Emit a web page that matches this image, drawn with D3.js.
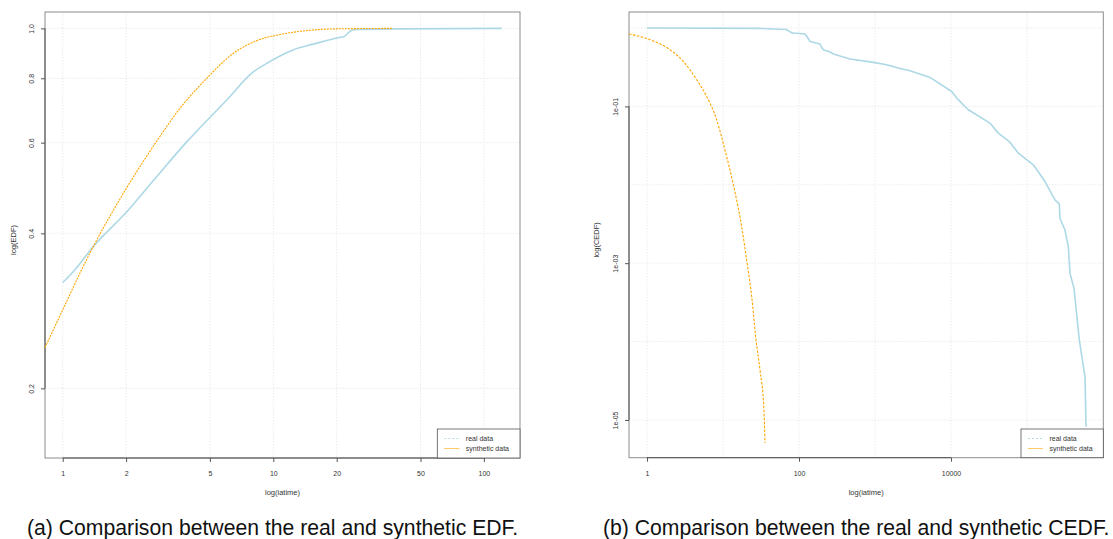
<!DOCTYPE html>
<html><head><meta charset="utf-8">
<script src="https://cdn.jsdelivr.net/npm/d3@7"></script>
<style>body{margin:0;background:#fff}svg{display:block}</style>
</head><body>
<svg id="c" width="1113" height="539"></svg>
<script>
// ---------- data ----------
const edfRealX = [1, 1.144, 1.397, 2.01, 2.79, 3.88, 6.01, 8.03, 9.3, 10.76, 12.4, 15.5, 20.7, 21.6, 23.6, 24.9, 40, 121.5];
const edfRealY = [0.321, 0.340, 0.377, 0.44, 0.515, 0.602, 0.726, 0.823, 0.855, 0.884, 0.908, 0.932, 0.960, 0.963, 0.992, 0.995, 0.998, 1.0];
const edfSynX = [0.824, 1, 1.23, 1.397, 1.98, 2.75, 3.6, 4.83, 6.45, 8.65, 10.76, 15.5, 20, 36.5];
const edfSynY = [0.240, 0.284, 0.34, 0.377, 0.485, 0.598, 0.699, 0.8, 0.894, 0.952, 0.973, 0.993, 0.998, 1.0];

const cedfRealX = [1, 30, 68.9, 78, 84, 120, 130, 140, 189, 200, 209, 257, 284, 469, 950, 1426, 2028, 2890, 5290, 10210, 12500, 16900, 32580, 41880, 58580, 76900, 121000, 172600, 233500, 266000, 271600, 316000, 349500, 368000, 415000, 487500, 579600, 597500];
const cedfRealY = [1.0, 0.99, 0.955, 0.88, 0.863, 0.838, 0.75, 0.674, 0.625, 0.56, 0.528, 0.494, 0.466, 0.402, 0.364, 0.34, 0.308, 0.285, 0.234, 0.155, 0.121, 0.0905, 0.0612, 0.0456, 0.0356, 0.0253, 0.018, 0.011, 0.0064, 0.0057, 0.00374, 0.00265, 0.00163, 7.4e-4, 4.8e-4, 1.05e-4, 3.55e-5, 8.2e-6];
const cedfSynX = [0.58, 1.095, 2.01, 3.0, 4.5, 6.1, 8.26, 10.6, 13.7, 17.6, 21.1, 23.9, 27.2, 30.7, 34.6, 35.7];
const cedfSynY = [0.838, 0.709, 0.528, 0.375, 0.219, 0.134, 0.0675, 0.0279, 0.01, 0.00292, 9.0e-4, 3.73e-4, 1.05e-4, 4.34e-5, 1.34e-5, 5.1e-6];

const edfXTicks = [1, 2, 5, 10, 20, 50, 100];
const edfYTicks = [0.2, 0.4, 0.6, 0.8, 1.0];
const edfYTickLabels = ["0.2", "0.4", "0.6", "0.8", "1.0"];
const cedfXTicks = [1, 100, 10000];
const cedfXGrid = [1, 10, 100, 1000, 10000, 100000];
const cedfYTicks = [1e-1, 1e-3, 1e-5];
const cedfYTickLabels = ["1e-01", "1e-03", "1e-05"];
const cedfYGrid = [1, 1e-1, 1e-2, 1e-3, 1e-4, 1e-5];
const legendLabels = ["real data", "synthetic data"];
const captions = ["(a) Comparison between the real and synthetic EDF.", "(b) Comparison between the real and synthetic CEDF."];
const xTitle = "log(iatime)";
const yTitles = ["log(EDF)", "log(CEDF)"];

// ---------- drawing ----------
const svg = d3.select("#c");
const F = "'Liberation Sans', Arial, Helvetica, sans-serif";
const BLUE = "#add8e6", ORANGE = "#ffa500";

function panel(o) {
  const g = svg.append("g");
  const x = d3.scaleLog().domain(o.xd).range([o.l, o.r]);
  const y = d3.scaleLog().domain(o.yd).range([o.b, o.t]);
  // grid
  g.selectAll(".gx").data(o.xGrid).join("line")
    .attr("x1", d => x(d)).attr("x2", d => x(d)).attr("y1", o.t).attr("y2", o.b)
    .attr("stroke", "#e6e6e6").attr("stroke-width", 0.8).attr("stroke-dasharray", "1.5,1.5");
  g.selectAll(".gy").data(o.yGrid).join("line")
    .attr("y1", d => y(d)).attr("y2", d => y(d)).attr("x1", o.l).attr("x2", o.r)
    .attr("stroke", "#e6e6e6").attr("stroke-width", 0.8).attr("stroke-dasharray", "1.5,1.5");
  // box
  g.append("rect").attr("x", o.l).attr("y", o.t).attr("width", o.r - o.l).attr("height", o.b - o.t)
    .attr("fill", "none").attr("stroke", "#8c8c8c").attr("stroke-width", 1);
  // axes
  const xa = g.append("g").attr("transform", `translate(0,${o.b})`)
    .call(d3.axisBottom(x).tickValues(o.xTicks).tickFormat(d3.format("d")).tickSize(4).tickPadding(9).tickSizeOuter(0));
  xa.select(".domain").attr("stroke", "#555").attr("d", `M${x(o.xTicks[0])},0H${x(o.xTicks[o.xTicks.length-1])}`);
  xa.selectAll(".tick line").attr("stroke", "#555");
  xa.selectAll("text").attr("font-family", F).attr("font-size", 7).attr("fill", "#333");
  const ya = g.append("g").attr("transform", `translate(${o.l},0)`)
    .call(d3.axisLeft(y).tickValues(o.yTicks).tickFormat((d, i) => o.yLabels[i]).tickSize(4).tickSizeOuter(0));
  ya.select(".domain").attr("stroke", "#555").attr("d", `M0,${y(o.yTicks[0])}V${y(o.yTicks[o.yTicks.length-1])}`);
  ya.selectAll(".tick line").attr("stroke", "#555");
  ya.selectAll("text").attr("font-family", F).attr("font-size", 7).attr("fill", "#333")
    .attr("text-anchor", "middle").attr("x", 0).attr("dy", 0)
    .attr("transform", "translate(-11,0) rotate(-90)");
  // lines
  const line = (xs, ys, curve) => d3.line().x((d, i) => x(xs[i])).y((d, i) => y(ys[i])).curve(curve)(xs);
  g.append("path").attr("d", line(o.realX, o.realY, o.realCurve))
    .attr("fill", "none").attr("stroke", BLUE).attr("stroke-width", 1.6).attr("stroke-linejoin", "round");
  g.append("path").attr("d", line(o.synX, o.synY, d3.curveMonotoneX))
    .attr("fill", "none").attr("stroke", ORANGE).attr("stroke-width", 1.1).attr("stroke-dasharray", o.synDash);
  // titles
  g.append("text").attr("x", (o.l + o.r) / 2 + o.xTitleDx).attr("y", 495).attr("text-anchor", "middle")
    .attr("font-family", F).attr("font-size", 7.5).attr("fill", "#333").text(xTitle);
  g.append("text").attr("transform", `translate(${o.yTitleX},${(o.t + o.b) / 2 + 5}) rotate(-90)`).attr("text-anchor", "middle")
    .attr("font-family", F).attr("font-size", 7.5).attr("fill", "#333").text(o.yTitle);
  // legend
  const lx = o.legX, ly = 429, lw = o.r - o.legX, lh = o.b - ly;
  g.append("rect").attr("x", lx).attr("y", ly).attr("width", lw).attr("height", lh)
    .attr("fill", "#fff").attr("stroke", "#555").attr("stroke-width", 0.8);
  g.append("line").attr("x1", lx + 7).attr("x2", lx + 22).attr("y1", ly + 9.5).attr("y2", ly + 9.5)
    .attr("stroke", BLUE).attr("stroke-width", 0.9).attr("stroke-dasharray", "2,2");
  g.append("line").attr("x1", lx + 7).attr("x2", lx + 22).attr("y1", ly + 19.5).attr("y2", ly + 19.5)
    .attr("stroke", ORANGE).attr("stroke-opacity", 0.6).attr("stroke-width", 1);
  legendLabels.forEach((t, i) => g.append("text").attr("x", lx + 28.5).attr("y", ly + 12 + i * 10)
    .attr("font-family", F).attr("font-size", 7).attr("fill", "#333").text(t));
  // caption
  g.append("text").attr("x", o.capX).attr("y", 535).attr("font-family", F).attr("font-size", 21.2)
    .attr("fill", "#111").text(o.caption);
}

panel({
  l: 45, r: 520, t: 12, b: 458,
  xd: [0.824, 148.4], yd: [0.1465, 1.076],
  xTicks: edfXTicks, xGrid: edfXTicks, yTicks: edfYTicks, yLabels: edfYTickLabels, yGrid: edfYTicks,
  realX: edfRealX, realY: edfRealY, realCurve: d3.curveMonotoneX,
  synX: edfSynX, synY: edfSynY, synDash: "2,1",
  xTitleDx: 0, yTitle: yTitles[0], yTitleX: 16, legX: 437.3,
  caption: captions[0], capX: 27
});
panel({
  l: 629, r: 1103.3, t: 12, b: 457.7,
  xd: [0.58, 1.009e6], yd: [3.3e-6, 1.6],
  xTicks: cedfXTicks, xGrid: cedfXGrid, yTicks: cedfYTicks, yLabels: cedfYTickLabels, yGrid: cedfYGrid,
  realX: cedfRealX, realY: cedfRealY, realCurve: d3.curveLinear,
  synX: cedfSynX, synY: cedfSynY, synDash: "2.5,1.5",
  xTitleDx: 0, yTitle: yTitles[1], yTitleX: 599, legX: 1021,
  caption: captions[1], capX: 603
});
</script>
</body></html>
